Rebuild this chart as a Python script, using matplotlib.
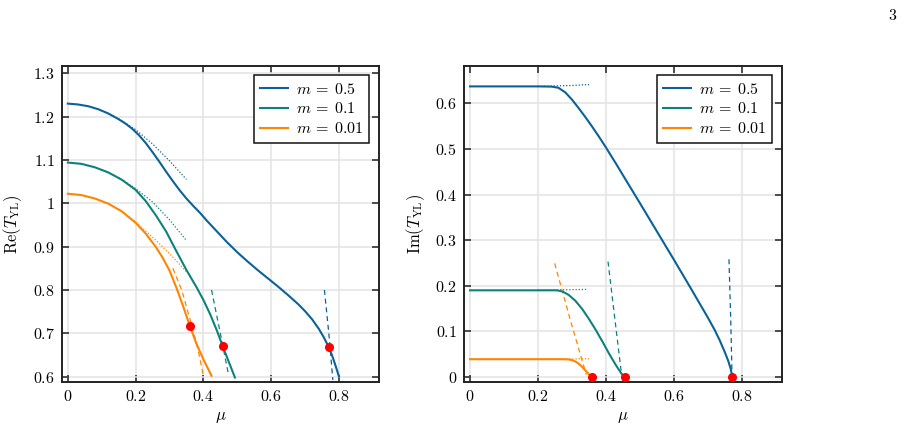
import numpy as np
import matplotlib
matplotlib.use("Agg")
import matplotlib.pyplot as plt
from matplotlib.ticker import FuncFormatter

plt.rcParams['mathtext.fontset'] = 'cm'
plt.rcParams['font.family'] = 'DejaVu Sans'

blue = '#0a6299'
teal = '#0d827c'
orange = '#ff8500'

# ---- Re(T_YL) ----
mu_re_05 = [0.00, 0.03, 0.06, 0.09, 0.12, 0.15, 0.17, 0.19, 0.21, 0.23, 0.25, 0.27, 0.29, 0.31,
            0.33, 0.35, 0.37, 0.39, 0.41, 0.44, 0.47, 0.50, 0.53, 0.56, 0.59, 0.62, 0.65, 0.68,
            0.70, 0.72, 0.74, 0.755, 0.77, 0.78, 0.79, 0.80]
re_05 = [1.230, 1.228, 1.224, 1.217, 1.207, 1.194, 1.184, 1.172, 1.157, 1.139, 1.118, 1.096, 1.073,
         1.051, 1.030, 1.011, 0.994, 0.978, 0.960, 0.935, 0.910, 0.887, 0.866, 0.846, 0.827, 0.808,
         0.788, 0.767, 0.751, 0.733, 0.711, 0.691, 0.668, 0.648, 0.625, 0.600]
mu_re_01 = [0.00, 0.04, 0.08, 0.12, 0.16, 0.20, 0.23, 0.26, 0.29, 0.32, 0.35, 0.38, 0.40, 0.42,
            0.44, 0.457, 0.475, 0.493]
re_01 = [1.094, 1.091, 1.083, 1.071, 1.054, 1.031, 1.005, 0.972, 0.935, 0.890, 0.846, 0.806, 0.777,
         0.744, 0.706, 0.670, 0.634, 0.598]
mu_re_001 = [0.00, 0.04, 0.08, 0.12, 0.16, 0.20, 0.23, 0.26, 0.28, 0.30, 0.32, 0.34, 0.36, 0.38,
             0.40, 0.424]
re_001 = [1.022, 1.019, 1.011, 0.999, 0.981, 0.955, 0.930, 0.899, 0.874, 0.845, 0.806, 0.763, 0.717,
          0.675, 0.640, 0.602]

# small-mu expansions (dotted)
mu_re_dot_05 = [0.10, 0.15, 0.20, 0.25, 0.30, 0.35]
re_dot_05 = [1.214, 1.195, 1.170, 1.137, 1.098, 1.055]
mu_re_dot_01 = [0.10, 0.15, 0.20, 0.25, 0.30, 0.35]
re_dot_01 = [1.078, 1.059, 1.034, 1.003, 0.962, 0.914]
mu_re_dot_001 = [0.15, 0.20, 0.25, 0.30, 0.35]
re_dot_001 = [0.986, 0.957, 0.922, 0.884, 0.842]

# near-endpoint expansions (dashed)
mu_re_dash_05 = [0.757, 0.770, 0.782]
re_dash_05 = [0.800, 0.700, 0.592]
mu_re_dash_01 = [0.424, 0.450, 0.474]
re_dash_01 = [0.800, 0.700, 0.605]
mu_re_dash_001 = [0.310, 0.336, 0.365, 0.385, 0.400]
re_dash_001 = [0.850, 0.800, 0.720, 0.660, 0.602]

# critical points
mu_crit = [0.360, 0.457, 0.771]
re_crit = [0.717, 0.670, 0.668]
im_crit = [0.0, 0.0, 0.0]

# ---- Im(T_YL) ----
mu_im_05 = [0.00, 0.10, 0.20, 0.24, 0.26, 0.28, 0.30, 0.32, 0.34, 0.36, 0.38, 0.40, 0.43, 0.46,
            0.50, 0.55, 0.60, 0.65, 0.70, 0.72, 0.735, 0.75, 0.76, 0.767, 0.772]
im_05 = [0.637, 0.637, 0.637, 0.6365, 0.634, 0.624, 0.608, 0.589, 0.569, 0.548, 0.526, 0.503, 0.467,
         0.430, 0.381, 0.319, 0.257, 0.194, 0.130, 0.103, 0.080, 0.054, 0.035, 0.018, 0.000]
mu_im_01 = [0.00, 0.10, 0.20, 0.25, 0.26, 0.273, 0.29, 0.31, 0.33, 0.35, 0.37, 0.39, 0.41, 0.43,
            0.445, 0.452, 0.457]
im_01 = [0.190, 0.190, 0.190, 0.190, 0.1895, 0.187, 0.180, 0.167, 0.149, 0.127, 0.103, 0.077, 0.050,
         0.025, 0.008, 0.002, 0.000]
mu_im_001 = [0.00, 0.10, 0.20, 0.27, 0.29, 0.30, 0.31, 0.32, 0.33, 0.34, 0.35, 0.355, 0.36]
im_001 = [0.039, 0.039, 0.039, 0.039, 0.0385, 0.037, 0.034, 0.029, 0.022, 0.014, 0.006, 0.002, 0.000]

mu_im_dot_05 = [0.20, 0.25, 0.30, 0.35]
im_dot_05 = [0.637, 0.638, 0.639, 0.641]
mu_im_dot_01 = [0.20, 0.345]
im_dot_01 = [0.190, 0.192]
mu_im_dot_001 = [0.20, 0.35]
im_dot_001 = [0.039, 0.040]

mu_im_dash_05 = [0.762, 0.767, 0.771]
im_dash_05 = [0.258, 0.130, 0.005]
mu_im_dash_01 = [0.406, 0.426, 0.446]
im_dash_01 = [0.253, 0.128, 0.004]
mu_im_dash_001 = [0.249, 0.295, 0.342]
im_dash_001 = [0.249, 0.125, 0.005]

labels = [r'$m\:=\:0.5$', r'$m\:=\:0.1$', r'$m\:=\:0.01$']
colors = [blue, teal, orange]

fig = plt.figure(figsize=(9.06, 4.29), dpi=100)
ax1 = fig.add_axes([0.0681, 0.1089, 0.3502, 0.738])
ax2 = fig.add_axes([0.5121, 0.1089, 0.3510, 0.738])

fmt = FuncFormatter(lambda v, p: '$%g$' % round(v, 3))


def style(ax):
    ax.grid(True, color='#e3e3e3', lw=1.1, zorder=0)
    ax.set_axisbelow(True)
    ax.tick_params(direction='in', length=5, width=1.1, top=True, right=True,
                   labelsize=11.5, color='#222222', pad=5)
    for s in ax.spines.values():
        s.set_linewidth(1.4)
        s.set_color('#222222')
    ax.xaxis.set_major_formatter(fmt)
    ax.yaxis.set_major_formatter(fmt)
    ax.set_xticks([0, 0.2, 0.4, 0.6, 0.8])
    ax.set_xlim(-0.018, 0.918)
    ax.set_xlabel(r'$\mu$', fontsize=12, labelpad=2)


# left panel
for mu, y, c, lab in zip([mu_re_05, mu_re_01, mu_re_001], [re_05, re_01, re_001], colors, labels):
    ax1.plot(mu, y, color=c, lw=1.5, label=lab, zorder=3)
for mu, y, c in zip([mu_re_dot_05, mu_re_dot_01, mu_re_dot_001],
                    [re_dot_05, re_dot_01, re_dot_001], colors):
    ax1.plot(mu, y, color=c, lw=0.9, ls=(0, (1, 1.5)), zorder=2)
for mu, y, c in zip([mu_re_dash_05, mu_re_dash_01, mu_re_dash_001],
                    [re_dash_05, re_dash_01, re_dash_001], colors):
    ax1.plot(mu, y, color=c, lw=0.9, ls=(0, (4, 3)), zorder=2)
ax1.plot(mu_crit, re_crit, 'o', color='#ff0000', ms=5.5, zorder=4)
style(ax1)
ax1.set_ylim(0.587, 1.3175)
ax1.set_yticks([0.6, 0.7, 0.8, 0.9, 1.0, 1.1, 1.2, 1.3])
ax1.set_ylabel(r'$\mathrm{Re}(T_{\mathrm{YL}})$', fontsize=12, labelpad=6)

# right panel
for mu, y, c, lab in zip([mu_im_05, mu_im_01, mu_im_001], [im_05, im_01, im_001], colors, labels):
    ax2.plot(mu, y, color=c, lw=1.5, label=lab, zorder=3)
for mu, y, c in zip([mu_im_dot_05, mu_im_dot_01, mu_im_dot_001],
                    [im_dot_05, im_dot_01, im_dot_001], colors):
    ax2.plot(mu, y, color=c, lw=0.9, ls=(0, (1, 1.5)), zorder=2)
for mu, y, c in zip([mu_im_dash_05, mu_im_dash_01, mu_im_dash_001],
                    [im_dash_05, im_dash_01, im_dash_001], colors):
    ax2.plot(mu, y, color=c, lw=0.9, ls=(0, (4, 3)), zorder=2)
ax2.plot(mu_crit, im_crit, 'o', color='#ff0000', ms=5.5, zorder=4, clip_on=False)
style(ax2)
ax2.set_ylim(-0.0116, 0.6824)
ax2.set_yticks([0, 0.1, 0.2, 0.3, 0.4, 0.5, 0.6])
ax2.set_ylabel(r'$\mathrm{Im}(T_{\mathrm{YL}})$', fontsize=12, labelpad=6)

for ax in (ax1, ax2):
    leg = ax.legend(loc='upper right', fontsize=11.5, frameon=True, fancybox=False,
                    edgecolor='#111111', framealpha=1, handlelength=1.7, borderpad=0.4,
                    labelspacing=0.3, handletextpad=0.5, borderaxespad=0.6)
    leg.get_frame().set_linewidth(1.1)

fig.text(893 / 906, 1 - 15 / 429, '$3$', fontsize=11.5, ha='center', va='center')

fig.savefig('out.png', dpi=100)
